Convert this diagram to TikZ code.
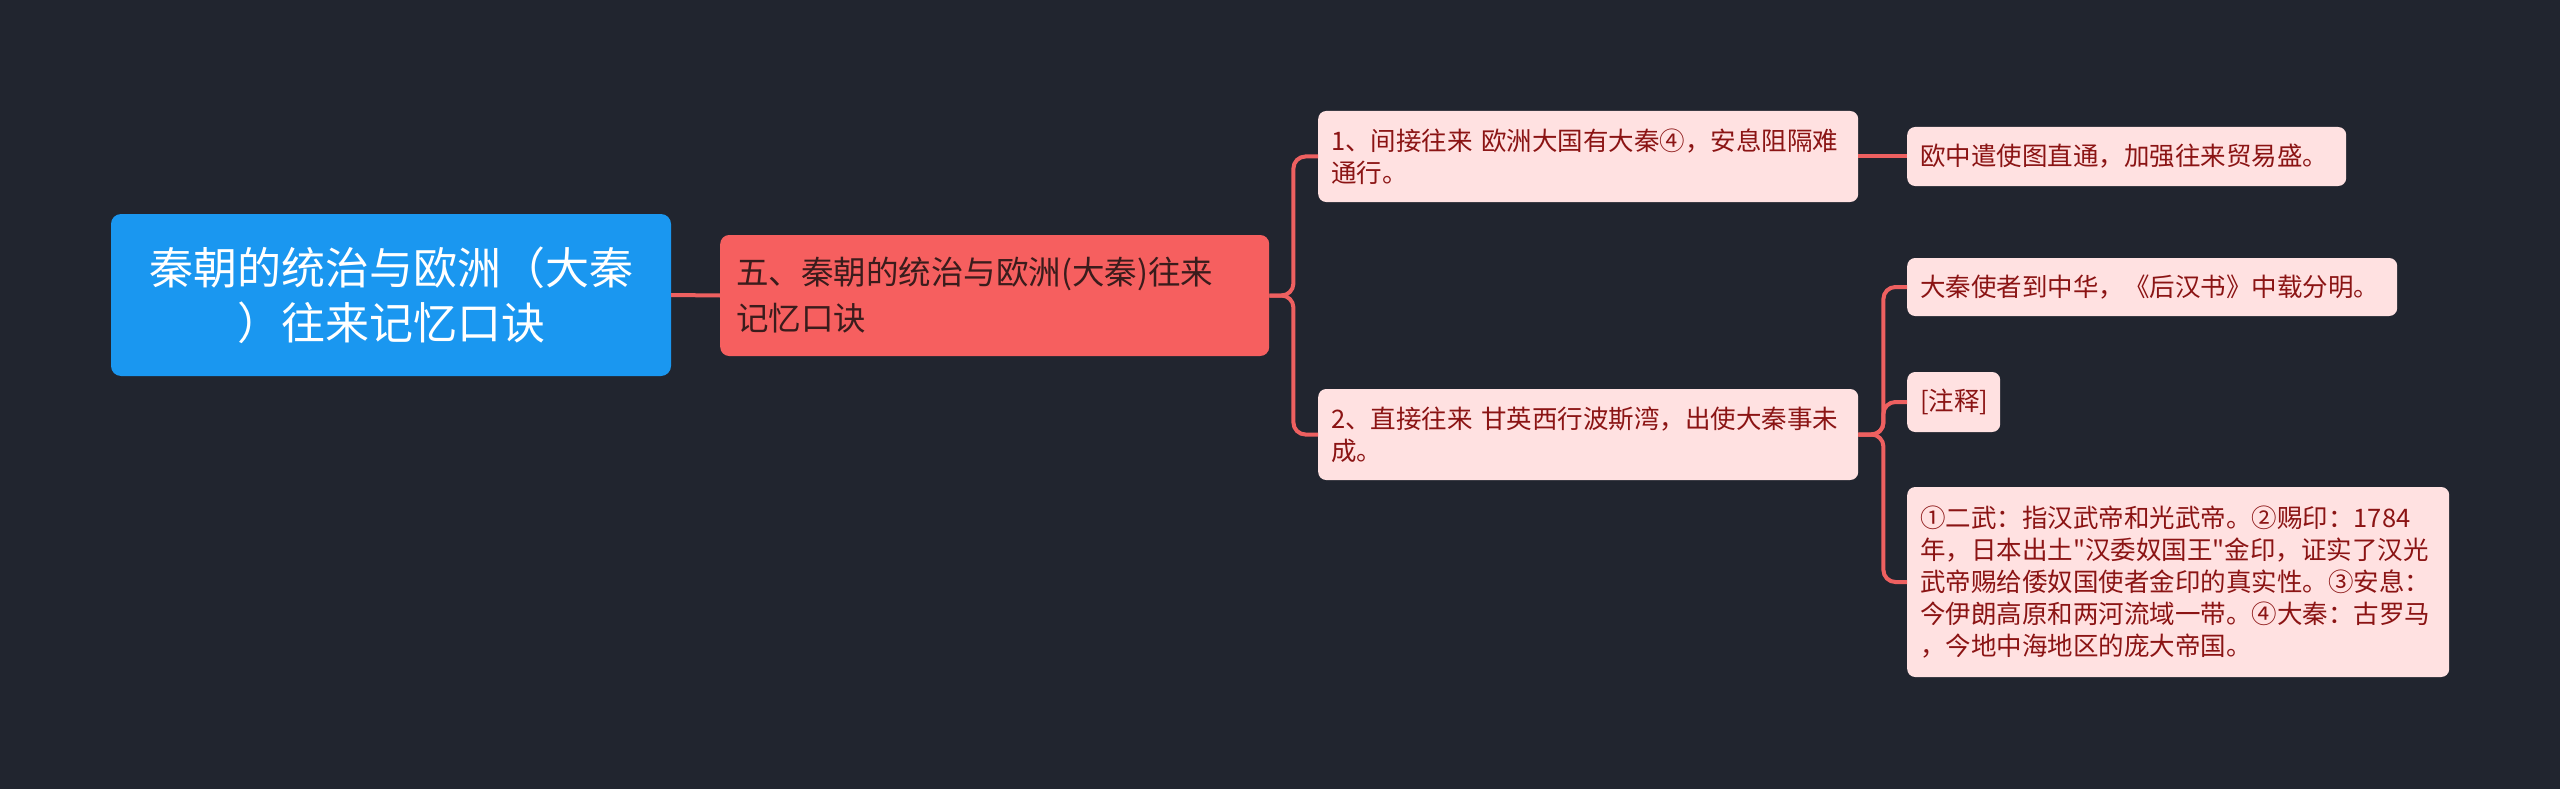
\documentclass[tikz,border=0pt]{standalone}
\usepackage{fontspec}
\setmainfont{Noto Sans CJK SC}[Ligatures=TeXOff]
\definecolor{bg}{HTML}{21252F}
\definecolor{rootfill}{HTML}{1A97F0}
\definecolor{lonefill}{HTML}{F65F5F}
\definecolor{lonetext}{HTML}{3A1C1C}
\definecolor{leaffill}{HTML}{FFE1E1}
\definecolor{leaftext}{HTML}{8B1414}
\definecolor{conncol}{HTML}{EE6060}
\begin{document}
\begin{tikzpicture}[x=1pt,y=-1pt,
  rootbox/.style={rectangle, rounded corners=10pt, fill=rootfill, text=white,
    font=\fontsize{44}{55}\selectfont, align=center, inner sep=0pt},
  lonebox/.style={rectangle, rounded corners=9pt, fill=lonefill, text=lonetext,
    font=\fontsize{32.5}{46}\selectfont, align=left, inner xsep=16pt, inner ysep=0pt, anchor=west},
  leafbox/.style={rectangle, rounded corners=8pt, fill=leaffill, text=leaftext,
    font=\fontsize{25.5}{32}\selectfont, align=left, inner xsep=13pt, inner ysep=0pt, anchor=west},
  conn/.style={draw=conncol, line width=4pt, rounded corners=12pt}]
\useasboundingbox (0,0) rectangle (2560,789);
\fill[bg] (0,0) rectangle (2560,789);

\node[rootbox, minimum width=560pt, minimum height=162pt] (root) at (391,295)
  {秦朝的统治与欧洲（大秦\\）往来记忆口诀};
\node[lonebox, text width=517pt, minimum height=121pt] (l1) at (720,295.5)
  {五、秦朝的统治与欧洲(大秦)往来\\记忆口诀};
\node[leafbox, text width=514pt, minimum height=91pt] (n1) at (1318,156.5)
  {1、间接往来 欧洲大国有大秦④，安息阻隔难\\通行。};
\node[leafbox, text width=514pt, minimum height=91pt] (n2) at (1318,434.5)
  {2、直接往来 甘英西行波斯湾，出使大秦事未\\成。};
\node[leafbox, text width=413pt, minimum height=59pt] (la) at (1907,156.5)
  {欧中遣使图直通，加强往来贸易盛。};
\node[leafbox, text width=464pt, minimum height=58pt] (lb) at (1907,287)
  {大秦使者到中华，《后汉书》中载分明。};
\node[leafbox, text width=67pt, minimum height=60pt] (lc) at (1907,402)
  {[注释]};
\node[leafbox, text width=516pt, minimum height=190pt] (ld) at (1907,582)
  {①二武：指汉武帝和光武帝。②赐印：1784\\年，日本出土"汉委奴国王"金印，证实了汉光\\武帝赐给倭奴国使者金印的真实性。③安息：\\今伊朗高原和两河流域一带。④大秦：古罗马\\，今地中海地区的庞大帝国。};

\draw[conn] (root.east) -- (l1.west);
\draw[conn] (l1.east) -- ++(24,0) |- (n1.west);
\draw[conn] (l1.east) -- ++(24,0) |- (n2.west);
\draw[conn] (n1.east) -- (la.west);
\draw[conn] (n2.east) -- ++(25,0) |- (lb.west);
\draw[conn] (n2.east) -- ++(25,0) |- (lc.west);
\draw[conn] (n2.east) -- ++(25,0) |- (ld.west);
\end{tikzpicture}
\end{document}
